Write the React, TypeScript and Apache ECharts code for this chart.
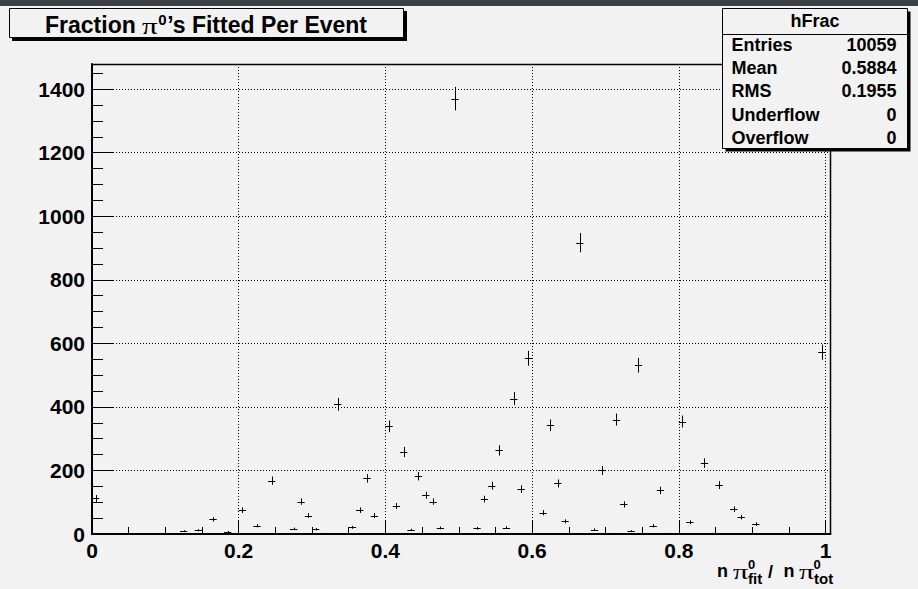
import React, { useEffect, useRef } from "react";
import * as echarts from "echarts";

// ---- data (bin width 0.01) ----
const binCenters = [
  0.005, 0.095, 0.125, 0.145, 0.155, 0.165, 0.185, 0.205, 0.215, 0.225,
  0.245, 0.265, 0.275, 0.285, 0.295, 0.305, 0.315, 0.335, 0.355, 0.365,
  0.375, 0.385, 0.405, 0.415, 0.425, 0.435, 0.445, 0.455, 0.465, 0.475,
  0.495, 0.525, 0.535, 0.545, 0.555, 0.565, 0.575, 0.585, 0.595, 0.615,
  0.625, 0.635, 0.645, 0.665, 0.685, 0.695, 0.705, 0.715, 0.725, 0.735,
  0.745, 0.765, 0.775, 0.785, 0.805, 0.815, 0.835, 0.845, 0.855, 0.875,
  0.885, 0.905, 0.915, 0.995,
];
const counts = [
  112, 1, 9, 12, 1, 46, 7, 75, 1, 26,
  168, 1, 16, 102, 58, 15, 2, 408, 21, 75,
  175, 58, 339, 88, 258, 13, 182, 122, 102, 19,
  1370, 18, 110, 152, 263, 20, 426, 141, 553, 67,
  342, 159, 40, 917, 14, 200, 2, 360, 93, 9,
  531, 26, 137, 2, 354, 37, 223, 2, 154, 78,
  53, 31, 1, 572,
];
const binWidth = 0.01;
const histName = "hFrac";
const statsLabels = ["Entries", "Mean", "RMS", "Underflow", "Overflow"];
const statsValues = ["10059", "0.5884", "0.1955", "0", "0"];
const titleParts = ["Fraction ", "π", "0", "’s Fitted Per Event"];

const X_MAX = 1.0068;
const Y_MAX = 1479;
const FONT = "'Liberation Sans', Arial, Helvetica, sans-serif";
const SERIF = "'Liberation Serif', 'DejaVu Serif', serif";
const BG = "#f2f2f2";

const fmtX = (v: number) =>
  Math.abs(v - Math.round(v)) < 1e-9 ? String(Math.round(v)) : v.toFixed(1);

function txt(x: number, y: number, text: string, size: number, align: string, opts: any = {}) {
  const style: any = {
    text,
    fill: "#000",
    font: `${opts.weight || "bold"} ${size}px ${opts.family || FONT}`,
    align,
    textAlign: align,
    verticalAlign: "middle",
    textVerticalAlign: "middle",
  };
  if (opts.lineHeight) style.lineHeight = opts.lineHeight;
  return {
    type: "text",
    x,
    y,
    z: 60,
    scaleX: opts.scaleX || 1,
    style,
  };
}

let measureCtx: CanvasRenderingContext2D | null = null;
function measure(font: string, s: string) {
  if (!measureCtx) measureCtx = document.createElement("canvas").getContext("2d");
  if (!measureCtx) return s.length * 10;
  measureCtx.font = font;
  return measureCtx.measureText(s).width;
}

export default function App() {
  const ref = useRef<HTMLDivElement>(null);
  useEffect(() => {
    if (!ref.current) return;
    const chart = echarts.init(ref.current, null, { renderer: "svg" });
    const data = binCenters.map((x, i) => [x, counts[i]]);

    const labelStyle = {
      color: "#000",
      fontFamily: FONT,
      fontWeight: "bold",
      fontSize: 21,
    };
    const tickLine = { color: "#000", width: 1 };
    const gridLine = { color: "#000", width: 1, type: [1, 2] as any };

    const graphic: any[] = [
      { type: "rect", z: 60, shape: { x: 0, y: 0, width: 918, height: 6 }, style: { fill: "#3b4045" } },
      {
        type: "polyline",
        z: 40,
        shape: { points: [[92, 64.5], [830.5, 64.5], [830.5, 534]] },
        style: { stroke: "#000", lineWidth: 1.5, fill: null },
      },
      // title box
      { type: "rect", z: 60, shape: { x: 12, y: 11, width: 395, height: 30 }, style: { fill: "#000" } },
      {
        type: "rect",
        z: 61,
        shape: { x: 9.5, y: 8.5, width: 394, height: 29 },
        style: { fill: BG, stroke: "#000", lineWidth: 1 },
      },
      // stats box
      { type: "rect", z: 60, shape: { x: 725.5, y: 11.5, width: 185, height: 140 }, style: { fill: "#000" } },
      {
        type: "rect",
        z: 61,
        shape: { x: 722.5, y: 8.5, width: 185, height: 140 },
        style: { fill: BG, stroke: "#000", lineWidth: 1 },
      },
      {
        type: "line",
        z: 62,
        shape: { x1: 722.5, y1: 34.5, x2: 907.5, y2: 34.5 },
        style: { stroke: "#000", lineWidth: 1 },
      },
      { ...txt(815, 21, histName, 18, "center"), z: 63 },
    ];

    // title pieces laid out left to right
    const T_SIZE = 23;
    const tFont = `bold ${T_SIZE}px ${FONT}`;
    const piFont = `normal 24px ${SERIF}`;
    const supFont = `bold 15px ${FONT}`;
    const piScale = 1.3;
    let tx = 45;
    graphic.push({ ...txt(tx, 24.5, titleParts[0], T_SIZE, "left"), z: 63 });
    tx += measure(tFont, titleParts[0]);
    graphic.push({ ...txt(tx, 26, titleParts[1], 24, "left", { family: SERIF, weight: "normal", scaleX: piScale }), z: 63 });
    tx += measure(piFont, titleParts[1]) * piScale + 0.5;
    graphic.push({ ...txt(tx, 19, titleParts[2], 15, "left"), z: 63 });
    tx += measure(supFont, titleParts[2]) + 0.5;
    graphic.push({ ...txt(tx, 24.5, titleParts[3], T_SIZE, "left"), z: 63 });

    statsLabels.forEach((l, i) => {
      graphic.push({ ...txt(731.5, 44.5 + i * 23.4, l, 18, "left"), z: 63 });
      graphic.push({ ...txt(896.5, 44.5 + i * 23.4, statsValues[i], 18, "right"), z: 63 });
    });
    // x-axis title: n π^0_fit / n π^0_tot
    graphic.push(txt(717, 571, "n", 18, "left"));
    graphic.push(txt(733, 572, "π", 21, "left", { family: SERIF, weight: "normal", scaleX: 1.45 }));
    graphic.push(txt(748, 564, "0", 13, "left", { lineHeight: 9 }));
    graphic.push(txt(748, 578.5, "fit", 15, "left", { lineHeight: 12 }));
    graphic.push(txt(768, 572, "/", 18, "left"));
    graphic.push(txt(783.5, 571, "n", 18, "left"));
    graphic.push(txt(799, 572, "π", 21, "left", { family: SERIF, weight: "normal", scaleX: 1.45 }));
    graphic.push(txt(813.5, 564, "0", 13, "left", { lineHeight: 9 }));
    graphic.push(txt(814, 578.5, "tot", 15, "left", { lineHeight: 12 }));

    const option: any = {
      animation: false,
      backgroundColor: BG,
      grid: { left: 92, right: 87.5, top: 64, bottom: 55, containLabel: false },
      xAxis: [
        {
          type: "value",
          min: 0,
          max: X_MAX,
          interval: 0.2,
          position: "bottom",
          axisLine: { show: true, onZero: false, lineStyle: { color: "#000", width: 2 } },
          axisTick: { show: true, inside: true, length: 14, lineStyle: tickLine },
          axisLabel: { ...labelStyle, lineHeight: 16, margin: 8.5, showMaxLabel: false, formatter: fmtX },
          splitLine: { show: true, showMinLine: false, showMaxLine: false, lineStyle: gridLine },
        },
        {
          type: "value",
          min: 0,
          max: X_MAX,
          interval: 0.05,
          position: "bottom",
          axisLine: { show: false, onZero: false },
          axisTick: { show: true, inside: true, length: 7, lineStyle: tickLine },
          axisLabel: { show: false },
          splitLine: { show: false },
        },
      ],
      yAxis: [
        {
          type: "value",
          min: 0,
          max: Y_MAX,
          interval: 200,
          position: "left",
          axisLine: { show: true, onZero: false, lineStyle: { color: "#000", width: 2 } },
          axisTick: { show: true, inside: true, length: 22, lineStyle: tickLine },
          axisLabel: { ...labelStyle, margin: 7, showMaxLabel: false, formatter: (v: number) => String(v) },
          splitLine: { show: true, showMinLine: false, showMaxLine: false, lineStyle: gridLine },
        },
        {
          type: "value",
          min: 0,
          max: Y_MAX,
          interval: 50,
          position: "left",
          axisLine: { show: false, onZero: false },
          axisTick: { show: true, inside: true, length: 11, lineStyle: tickLine },
          axisLabel: { show: false },
          splitLine: { show: false },
        },
      ],
      series: [
        {
          type: "custom",
          xAxisIndex: 0,
          yAxisIndex: 0,
          clip: false,
          z: 30,
          data,
          renderItem: (params: any, api: any) => {
            const x = api.value(0);
            const y = api.value(1);
            const err = Math.sqrt(y);
            const pL = api.coord([x - binWidth / 2, y]);
            const pR = api.coord([x + binWidth / 2, y]);
            const pT = api.coord([x, y + err]);
            const pB = api.coord([x, Math.max(0, y - err)]);
            const cy = Math.round(pL[1]) + 0.5;
            const cx = Math.round(pT[0]) + 0.5;
            return {
              type: "group",
              children: [
                {
                  type: "line",
                  shape: { x1: pL[0], y1: cy, x2: pR[0], y2: cy },
                  style: { stroke: "#000", lineWidth: 1 },
                },
                {
                  type: "line",
                  shape: { x1: cx, y1: pT[1], x2: cx, y2: pB[1] },
                  style: { stroke: "#000", lineWidth: 1 },
                },
              ],
            };
          },
        },
      ],
      graphic,
    };
    chart.setOption(option);
    return () => chart.dispose();
  }, []);
  return (
    <div
      ref={ref}
      style={{ position: "fixed", left: 0, top: 0, width: 918, height: 589 }}
    />
  );
}
